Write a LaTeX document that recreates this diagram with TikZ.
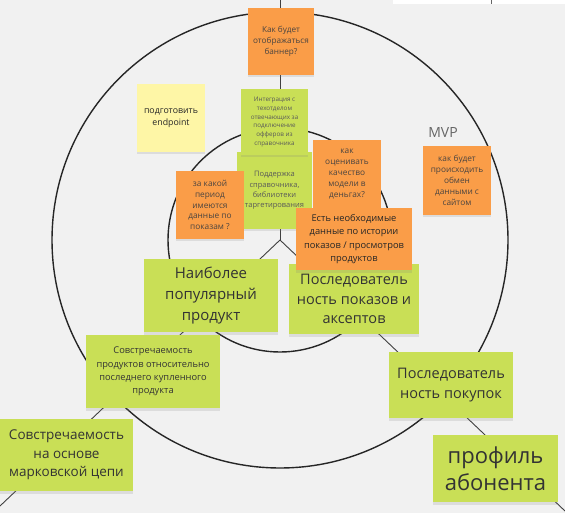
\documentclass[tikz,border=0pt]{standalone}
\usepackage{fontspec}
\setmainfont{Open Sans}
\usetikzlibrary{shadows}
\definecolor{bg}{HTML}{F1F1F1}
\definecolor{orangenote}{HTML}{FA9D48}
\definecolor{greennote}{HTML}{C9DF56}
\definecolor{yellownote}{HTML}{FEF6A6}
\definecolor{ink}{HTML}{333333}
\definecolor{softink}{HTML}{4A4440}
\newcommand\fs[2]{\fontsize{#1}{#2}\selectfont}
\begin{document}
\begin{tikzpicture}[x=1pt,y=-1pt,
  sticky/.style={inner sep=0pt, align=center, text=ink,
    drop shadow={shadow xshift=0pt, shadow yshift=-2.5pt, opacity=0.18}},
  onote/.style={sticky, fill=orangenote, text=softink},
  gnote/.style={sticky, fill=greennote},
  ynote/.style={sticky, fill=yellownote, text=black!85},
  ring/.style={draw=black!85, line width=1.4pt},
  divider/.style={draw=black!75, line width=0.9pt}]
\useasboundingbox (0,0) rectangle (565,513);
\fill[bg] (0,0) rectangle (565,513);
\fill[white] (393,0) rectangle (565,4);
\draw[black!60, line width=0.6pt] (491,0) -- (491,4);

\coordinate (c) at (280,240);
\coordinate (up) at (280,0);
\coordinate (dl) at (0,506);
\coordinate (dr) at (565,511);
\draw[divider] (c) -- (up);
\draw[divider] (c) -- (dl);
\draw[divider] (c) -- (dr);
\draw[ring] (c) circle[radius=228pt];
\draw[ring] (c) circle[radius=112pt];

\node[font=\fs{14}{16}, text=black!60] (mvp) at (443,133) {MVP};

\node[onote, minimum width=66pt, minimum height=67pt, font=\fs{8.2}{11}] (n1) at (281,41.5)
  {Как будет\\отображаться\\баннер?};
\node[ynote, minimum width=68pt, minimum height=68pt, font=\fs{8.8}{12.3}] (n2) at (171,118)
  {подготовить\\endpoint};
\node[gnote, minimum width=75pt, minimum height=77pt, font=\fs{7.5}{10.3}, text=black!65] (n4) at (274.5,190.5)
  {Поддержка\\справочника,\\библиотеки\\таргетирования};
\node[gnote, minimum width=67pt, minimum height=66pt, font=\fs{6.3}{8.9}, text=black!65] (n3) at (274.5,122)
  {Интеграция с\\техотделом\\отвечающих за\\подключение\\офферов из\\справочника};
\node[onote, minimum width=68pt, minimum height=68pt, font=\fs{8.3}{10.8}] (n5) at (210,205)
  {за какой\\период\\имеются\\данные по\\показам ?};
\node[onote, minimum width=68pt, minimum height=68pt, font=\fs{8.3}{11}] (n6) at (347,174)
  {как\\оценивать\\качество\\модели в\\деньгах?};
\node[onote, minimum width=68pt, minimum height=69pt, font=\fs{8.3}{11}] (n9) at (457,180.5)
  {как будет\\происходить\\обмен\\данными с\\сайтом};
\node[gnote, minimum width=134pt, minimum height=73pt, font=\fs{15}{20.7}] (n10) at (211,295.5)
  {Наиболее\\популярный\\продукт};
\node[gnote, minimum width=130pt, minimum height=70pt, font=\fs{14.5}{19.5}] (n11) at (354,299)
  {Последователь\\ность показов и\\аксептов};
\node[onote, minimum width=116pt, minimum height=62pt, font=\fs{9.3}{13.3}, text=black!85] (n7) at (354,239)
  {Есть необходимые\\данные по истории\\показов / просмотров\\продуктов};
\node[gnote, minimum width=134pt, minimum height=73pt, font=\fs{9.3}{13.3}] (n12) at (153,371.5)
  {Совстречаемость\\продуктов относительно\\последнего купленного\\продукта};
\node[gnote, minimum width=124pt, minimum height=66pt, font=\fs{14.5}{20}] (n13) at (451,385)
  {Последователь\\ность покупок};
\node[gnote, minimum width=133pt, minimum height=72pt, font=\fs{13.5}{18.3}] (n14) at (66.5,455)
  {Совстречаемость\\на основе\\марковской цепи};
\node[gnote, minimum width=125pt, minimum height=67pt, font=\fs{22}{26.7}] (n15) at (495.5,468.5)
  {профиль\\абонента};
\end{tikzpicture}
\end{document}
